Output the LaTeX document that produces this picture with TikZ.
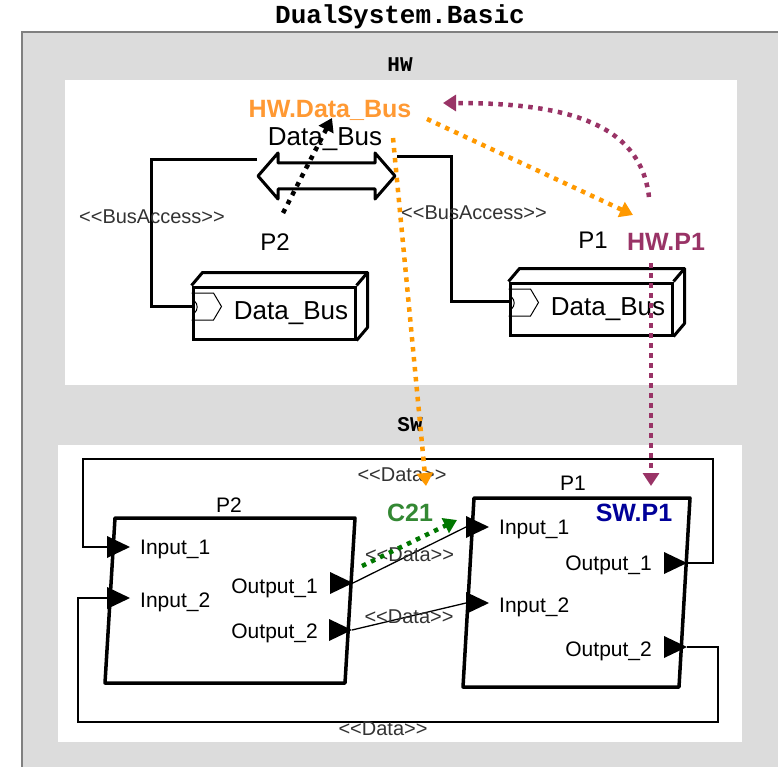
\documentclass[tikz,border=0pt]{standalone}
\usepackage{fontspec}
\setmainfont{Liberation Sans}
\newfontfamily\codefont{Liberation Mono}
\usetikzlibrary{arrows.meta}

\definecolor{framegray}{HTML}{DCDCDC}
\definecolor{hworange}{HTML}{FF9933}
\definecolor{dotorange}{HTML}{FF9900}
\definecolor{hwpurple}{HTML}{993366}
\definecolor{swnavy}{HTML}{000099}
\definecolor{cgreen}{HTML}{338833}
\definecolor{dotgreen}{HTML}{007700}

\newcommand{\stype}[1]{\textless\kern0pt\textless\kern0pt #1\kern0pt\textgreater\kern0pt\textgreater}

\begin{document}
\begin{tikzpicture}[x=1pt,y=-1pt,>={Triangle[length=13pt,width=16pt]},
  title/.style={font=\codefont\bfseries\fontsize{26}{28}\selectfont,inner sep=0pt},
  partname/.style={font=\codefont\bfseries\fontsize{21}{24}\selectfont,inner sep=0pt},
  biglbl/.style={font=\fontsize{26}{28}\selectfont,inner sep=0pt},
  plbl/.style={font=\fontsize{24}{26}\selectfont,inner sep=0pt},
  portlbl/.style={font=\fontsize{21}{24}\selectfont,inner sep=0pt},
  stereo/.style={font=\fontsize{20}{22}\selectfont,text=black!80,inner sep=0pt},
  boldlbl/.style={font=\bfseries\fontsize{25}{28}\selectfont,inner sep=0pt},
  device/.style={draw,line width=3pt,minimum width=162pt,minimum height=52pt,inner sep=0pt,font=\fontsize{26}{28}\selectfont},
  busline/.style={line width=3pt},
  block/.style={line width=3.5pt,line join=round},
  wire/.style={line width=1.3pt},
  dotline/.style={line width=4.5pt,dash pattern=on 4.5pt off 5.5pt}]
\useasboundingbox (0,0) rectangle (778,767);
% frames
\fill[white] (0,0) rectangle (778,767);
\fill[framegray] (22,32) rectangle (778,767);
\draw[gray,line width=1.5pt] (22,767) -- (22,32) -- (778,32);
\fill[white] (65,80) rectangle (737,385);
\fill[white] (58,445) rectangle (742,742);
\node[title] (sysname) at (400,17) {DualSystem.Basic};
\node[partname] (hwname) at (400,65) {HW};
\node[partname] (swname) at (410,425) {SW};

% HW
\draw[line width=3pt,line join=round] (258,176) -- (278,153) -- (278,163) -- (375,163) -- (375,153) -- (395,176) -- (375,199) -- (375,189) -- (278,189) -- (278,199) -- cycle;
\coordinate (busL) at (257,160);
\coordinate (busR) at (397,157);
\node[biglbl] (buslbl) at (325,139) {Data\_Bus};
\node[device] (dev2) at (274,313) {\hspace*{34pt}Data\_Bus};
\node[device] (dev1) at (591,309) {\hspace*{34pt}Data\_Bus};
\foreach \d in {dev1,dev2} {
  \draw[line width=3pt,line join=round] (\d.north west) -- ++(11,-13) -- ([shift={(11,-13)}]\d.north east) -- ([shift={(11,-13)}]\d.south east) -- (\d.south east);
  \draw[line width=3pt] (\d.north east) -- ++(11,-13);
  \draw[line width=1pt] ([shift={(0,-20)}]\d.west) -- ++(22,0) -- ++(8,13.5) -- ++(-8,13.5) -- ++(-22,0);
  \draw[line width=1pt] ([shift={(3,-12)}]\d.west) to[bend left=50] ([shift={(3,0)}]\d.west);
}
\draw[busline] (busL) -- (151,160) |- ([yshift=7pt]dev2.west);
\draw[busline] (busR) -- (451,157) |- ([yshift=8pt]dev1.west);
\node[stereo] (ba2) at (152,217) {\stype{BusAccess}};
\node[stereo] (ba1) at (474,213) {\stype{BusAccess}};
\node[plbl] (p2lbl) at (275,242) {P2};
\node[plbl] (p1lbl) at (593,240) {P1};
\node[boldlbl,text=hworange] (hwbuslbl) at (330,110) {HW.Data\_Bus};
\node[boldlbl,text=hwpurple] (hwp1lbl) at (666,242) {HW.P1};

% SW
\draw[block] (115,518) -- (355,518) -- (345,683) -- (105,683) -- cycle;
\draw[block] (474,498) -- (690,498) -- (679,687) -- (463,687) -- cycle;
\node[portlbl] (p2name) at (229,505) {P2};
\node[portlbl] (p1name) at (573,483) {P1};
\foreach \n/\x/\y in {p2in1/107/547,p2in2/107/598,p1in1/466/527,p1in2/466/603}
  {\coordinate (\n) at (\x,\y);
   \fill (\n) -- ++(0,-11) -- ++(23,11) -- ++(-23,11) -- cycle;}
\foreach \n/\x/\y in {p2out1/353/583,p2out2/352/630,p1out1/687/563,p1out2/687/647}
  {\coordinate (\n) at (\x,\y);
   \fill (\n) -- ++(-23,-11) -- ++(0,22) -- cycle;}
\node[portlbl,anchor=west] (p2in1lbl) at (140,549) {Input\_1};
\node[portlbl,anchor=west] (p2in2lbl) at (140,602) {Input\_2};
\node[portlbl,anchor=east] (p2out1lbl) at (318,588) {Output\_1};
\node[portlbl,anchor=east] (p2out2lbl) at (318,633) {Output\_2};
\node[portlbl,anchor=west] (p1in1lbl) at (499,529) {Input\_1};
\node[portlbl,anchor=west] (p1in2lbl) at (499,607) {Input\_2};
\node[portlbl,anchor=east] (p1out1lbl) at (652,565) {Output\_1};
\node[portlbl,anchor=east] (p1out2lbl) at (652,651) {Output\_2};
\draw[wire] (p2out1) -- node[stereo] (d1lbl) {\stype{Data}} (p1in1);
\draw[wire] (p2out2) -- node[stereo] (d2lbl) {\stype{Data}} (p1in2);
\draw[wire] (p1out1) -- (713,563) |- (83,459) |- (p2in1);
\draw[wire] (p1out2) -- (718,647) |- (78,722) |- (p2in2);
\node[stereo] (datatop) at (402,475) {\stype{Data}};
\node[stereo] (databot) at (383,729) {\stype{Data}};
\node[boldlbl,text=cgreen] (c21lbl) at (410,513) {C21};
\node[boldlbl,text=swnavy] (swp1lbl) at (634,513) {SW.P1};

% mappings
\draw[dotline,->] ([shift={(8,-29)}]p2lbl.center) -- ([shift={(2,8)}]hwbuslbl.center);
\draw[dotline,dotorange,->] ([shift={(97,9)}]hwbuslbl.center) -- ([shift={(-33,-27)}]hwp1lbl.center);
\draw[dotline,dotorange,->] ([shift={(68,-1)}]buslbl.center) -- ([shift={(24,11)}]datatop.center);
\draw[dotline,hwpurple,->] ([shift={(-17,-45)}]hwp1lbl.center) .. controls (640,120) and (560,103) .. ([shift={(113,-7)}]hwbuslbl.center);
\draw[dotline,hwpurple,->] ([shift={(-15,21)}]hwp1lbl.center) -- ([shift={(17,-27)}]swp1lbl.center);
\draw[dotline,dotgreen,->] ([shift={(9,-17)}]p2out1) -- ([shift={(-9,-7)}]p1in1);
\end{tikzpicture}
\end{document}
